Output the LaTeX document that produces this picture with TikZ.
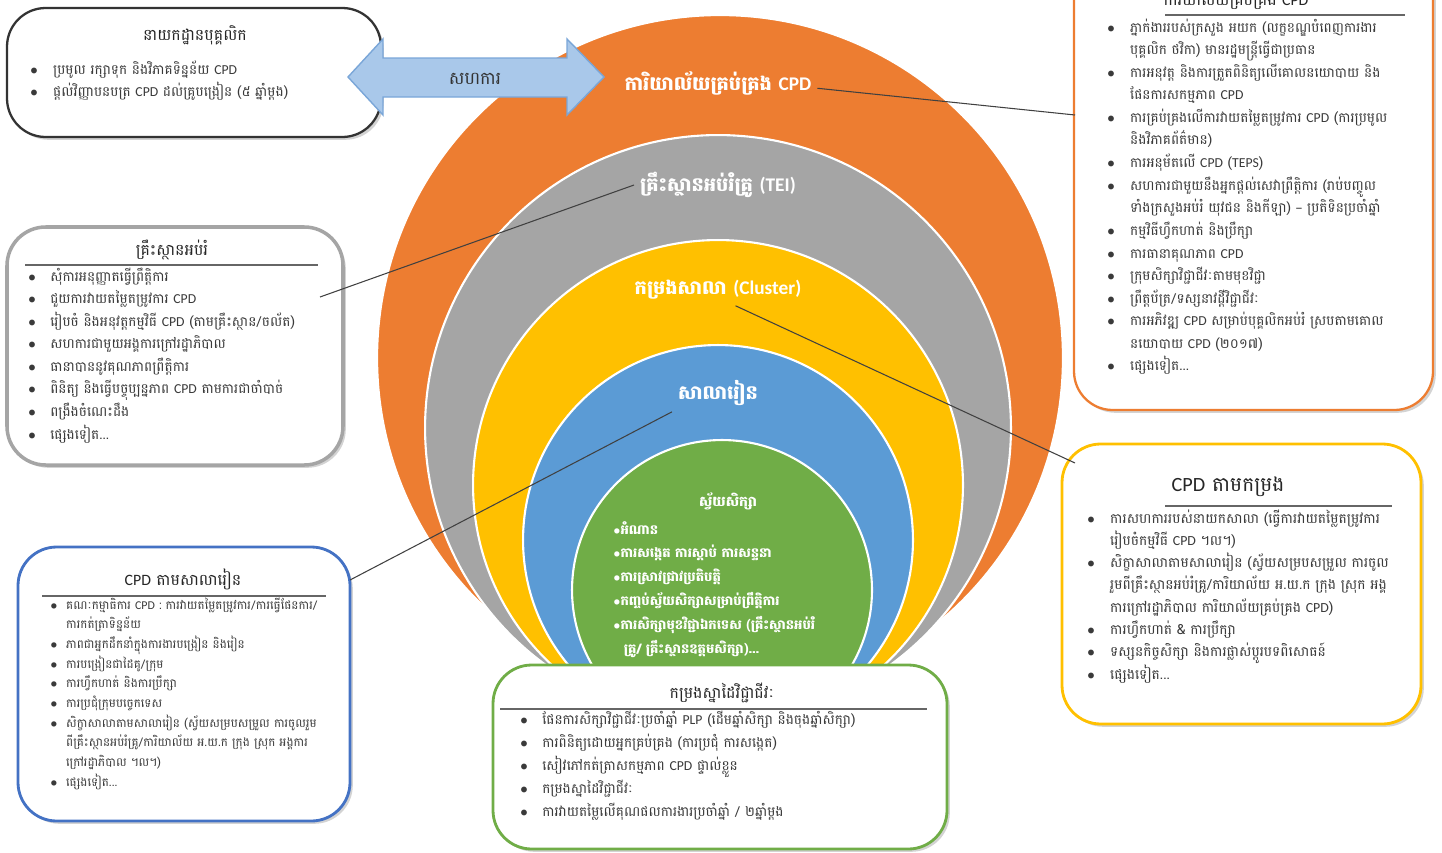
\documentclass[tikz,border=0pt]{standalone}
\usepackage{fontspec}
\setmainfont[Script=Khmer]{Battambang}
\newfontfamily\lat{Carlito}
\newfontfamily\symfont{DejaVu Sans}
\usetikzlibrary{shadows}

\definecolor{ringorange}{HTML}{ED7D31}
\definecolor{ringgray}{HTML}{A5A5A5}
\definecolor{ringgold}{HTML}{FFC000}
\definecolor{ringblue}{HTML}{5B9BD5}
\definecolor{ringgreen}{HTML}{70AD47}
\definecolor{arrowfill}{HTML}{A9C8EA}
\definecolor{arrowline}{HTML}{7AA6D8}
\definecolor{boxblue}{HTML}{4472C4}
\definecolor{bodytext}{HTML}{3A3A3A}

\newcommand{\kbul}{$\bullet$}
\newcommand{\kit}[1]{\kbul & #1\\}
\newcommand{\kcont}[1]{& #1\\}
\newcommand{\cpd}{{\lat CPD}}

\tikzset{
  ring/.style={draw=white, line width=1.2pt},
  ringlabel/.style={text=white, font=\bfseries\fontsize{11}{13}\selectfont},
  infobox/.style={fill=white, rounded corners=22pt, line width=1.3pt,
    drop shadow={shadow xshift=1.6pt, shadow yshift=-1.6pt, opacity=0.35}},
  boxtitle/.style={anchor=base, inner sep=0pt, text=black!85,
    font=\fontsize{9}{11}\selectfont},
  boxlist/.style={anchor=base west, inner sep=0pt, text=bodytext},
  titlerule/.style={draw=black!60, line width=0.6pt},
  link/.style={draw=black!75, line width=0.6pt}
}

\begin{document}
\begin{tikzpicture}[x=0.02cm, y=-0.02cm]
  \useasboundingbox (0,0) rectangle (1442,852);

  % Draw the nested rings
  \filldraw[ring, fill=ringorange] (720,358) circle (6.86cm);
  \filldraw[ring, fill=ringgray] (718,428) circle (5.86cm);
  \filldraw[ring, fill=ringgold] (718,485) circle (4.9cm);
  \filldraw[ring, fill=ringblue] (718,540) circle (3.9cm);
  \filldraw[ring, fill=ringgreen] (722,590) circle (3cm);

  % Ring labels
  \node[ringlabel] (ocpd) at (718,83) {ការិយាល័យគ្រប់គ្រង {\lat CPD}};
  \node[ringlabel] (tei) at (718,185) {គ្រឹះស្ថានអប់រំគ្រូ {\lat (TEI)}};
  \node[ringlabel] (clus) at (718,290) {កម្រងសាលា {\lat (Cluster)}};
  \node[ringlabel] (school) at (718,393) {សាលារៀន};

  % Self study in the green circle
  \node[anchor=base, text=white, font=\bfseries\fontsize{8}{10}\selectfont] (selfst) at (728,506) {ស្វ័យសិក្សា};
  \node[anchor=base west, inner sep=0pt, text=white, font=\bfseries\fontsize{7.5}{13.6}\selectfont] (selflist) at (613,534) {%
    \begin{tabular}[t]{@{}l@{}}
      $\bullet$អំណាន\\
      $\bullet$ការសង្កេត ការស្តាប់ ការសន្ទនា\\
      $\bullet$ការស្រាវជ្រាវប្រតិបត្តិ\\
      $\bullet$កញ្ចប់ស្វ័យសិក្សាសម្រាប់ព្រឹត្តិការ\\
      $\bullet$ការសិក្សាមុខវិជ្ជាឯកទេស (គ្រឹះស្ថានអប់រំ\\
      \hspace*{6pt}គ្រូ/ គ្រឹះស្ថានឧត្តមសិក្សា)...\\
    \end{tabular}};

  % Box: personnel department
  \draw[infobox, draw=black!80] (7,8) rectangle (381,137);
  \node[boxtitle] (perst) at (195,40) {នាយកដ្ឋានបុគ្គលិក};
  \node[boxlist, font=\fontsize{7.8}{13}\selectfont] (perslist) at (30,74) {%
    \begin{tabular}[t]{@{}p{13pt}@{}l@{}}
      \kit{ប្រមូល រក្សាទុក និងវិភាគទិន្នន័យ \cpd}
      \kit{ផ្តល់វិញ្ញាបនបត្រ \cpd{} ដល់គ្រូបង្រៀន (៥ ឆ្នាំម្តង)}
    \end{tabular}};

  % Double arrow between the two offices
  \filldraw[fill=arrowfill, draw=arrowline, line width=0.8pt]
    (348,77) -- (383,39) -- (383,58) -- (567,58) -- (567,39) -- (604,77)
    -- (567,115) -- (567,97) -- (383,97) -- (383,115) -- cycle;
  \node[text=black!80, font=\fontsize{10}{12}\selectfont] (coop) at (475,79) {សហការ};

  % Box: CPD office
  \draw[infobox, draw=ringorange] (1074,-40) rectangle (1433,410);
  \node[boxtitle] (offt) at (1236,6) {ការិយាល័យគ្រប់គ្រង \cpd};
  \draw[titlerule] (1165,15) -- (1405,15);
  \node[boxlist, font=\fontsize{7.8}{12.85}\selectfont] (offlist) at (1107,32) {%
    \begin{tabular}[t]{@{}p{13pt}@{}l@{}}
      \kit{ភ្នាក់ងាររបស់ក្រសួង អយក (លក្ខខណ្ឌបំពេញការងារ}
      \kcont{បុគ្គលិក ថវិកា) មានរដ្ឋមន្ត្រីធ្វើជាប្រធាន}
      \kit{ការអនុវត្ត និងការត្រួតពិនិត្យលើគោលនយោបាយ និង}
      \kcont{ផែនការសកម្មភាព \cpd}
      \kit{ការគ្រប់គ្រងលើការវាយតម្លៃតម្រូវការ \cpd{} (ការប្រមូល}
      \kcont{និងវិភាគព័ត៌មាន)}
      \kit{ការអនុម័តលើ \cpd{} ({\lat TEPS})}
      \kit{សហការជាមួយនឹងអ្នកផ្តល់សេវាព្រឹត្តិការ (រាប់បញ្ចូល}
      \kcont{ទាំងក្រសួងអប់រំ យុវជន និងកីឡា) {\symfont –} ប្រតិទិនប្រចាំឆ្នាំ}
      \kit{កម្មវិធីហ្វឹកហាត់ និងប្រឹក្សា}
      \kit{ការធានាគុណភាព \cpd}
      \kit{ក្រុមសិក្សាវិជ្ជាជីវៈតាមមុខវិជ្ជា}
      \kit{ព្រឹត្តប័ត្រ/ទស្សនាវដ្តីវិជ្ជាជីវៈ}
      \kit{ការអភិវឌ្ឍ \cpd{} សម្រាប់បុគ្គលិកអប់រំ ស្របតាមគោល}
      \kcont{នយោបាយ \cpd{} (២០១៧)}
      \kit{ផ្សេងទៀត...}
    \end{tabular}};

  % Box: education institutions
  \draw[infobox, draw=ringgray, line width=2pt] (7,227) rectangle (343,465);
  \node[boxtitle] (instt) at (172,255) {គ្រឹះស្ថានអប់រំ};
  \draw[titlerule] (25,265) -- (318,265);
  \node[boxlist, font=\fontsize{7.8}{12.85}\selectfont] (instlist) at (28,281) {%
    \begin{tabular}[t]{@{}p{12.5pt}@{}l@{}}
      \kit{សុំការអនុញ្ញាតធ្វើព្រឹត្តិការ}
      \kit{ជួយការវាយតម្លៃតម្រូវការ \cpd}
      \kit{រៀបចំ និងអនុវត្តកម្មវិធី \cpd{} (តាមគ្រឹះស្ថាន/ចល័ត)}
      \kit{សហការជាមួយអង្គការក្រៅរដ្ឋាភិបាល}
      \kit{ធានាបាននូវគុណភាពព្រឹត្តិការ}
      \kit{ពិនិត្យ និងធ្វើបច្ចុប្បន្នភាព \cpd{} តាមការជាចាំបាច់}
      \kit{ពង្រឹងចំណេះដឹង}
      \kit{ផ្សេងទៀត...}
    \end{tabular}};

  % Box: school based CPD
  \draw[infobox, draw=boxblue, line width=1.6pt] (18,547) rectangle (350,821);
  \node[boxtitle] (schoolt) at (183,585) {\cpd{} តាមសាលារៀន};
  \draw[titlerule] (42,596) -- (326,596);
  \node[boxlist, font=\fontsize{6.8}{11.2}\selectfont] (schoollist) at (50,609) {%
    \begin{tabular}[t]{@{}p{9pt}@{}l@{}}
      \kit{គណៈកម្មាធិការ \cpd{} : ការវាយតម្លៃតម្រូវការ/ការធ្វើផែនការ/}
      \kcont{ការកត់ត្រាទិន្នន័យ}
      \kit{ភាពជាអ្នកដឹកនាំក្នុងការងារបង្រៀន និងរៀន}
      \kit{ការបង្រៀនជាដៃគូ/ក្រុម}
      \kit{ការហ្វឹកហាត់ និងការប្រឹក្សា}
      \kit{ការប្រជុំក្រុមបច្ចេកទេស}
      \kit{សិក្ខាសាលាតាមសាលារៀន (ស្វ័យសម្របសម្រួល ការចូលរួម}
      \kcont{ពីគ្រឹះស្ថានអប់រំគ្រូ/ការិយាល័យ អ.យ.ក ក្រុង ស្រុក អង្គការ}
      \kcont{ក្រៅរដ្ឋាភិបាល ។ល។)}
      \kit{ផ្សេងទៀត...}
    \end{tabular}};

  % Box: cluster based CPD
  \draw[infobox, draw=ringgold, line width=1.6pt] (1062,444) rectangle (1421,724);
  \node[boxtitle, font=\fontsize{11.5}{13}\selectfont] (clust) at (1228,491) {\cpd{} តាមកម្រង};
  \draw[titlerule] (1165,506) -- (1392,506);
  \node[boxlist, font=\fontsize{7.9}{12.7}\selectfont] (cluslist) at (1087,523) {%
    \begin{tabular}[t]{@{}p{13pt}@{}l@{}}
      \kit{ការសហការរបស់នាយកសាលា (ធ្វើការវាយតម្លៃតម្រូវការ}
      \kcont{រៀបចំកម្មវិធី \cpd{} ។ល។)}
      \kit{សិក្ខាសាលាតាមសាលារៀន (ស្វ័យសម្របសម្រួល ការចូល}
      \kcont{រួមពីគ្រឹះស្ថានអប់រំគ្រូ/ការិយាល័យ អ.យ.ក ក្រុង ស្រុក អង្គ}
      \kcont{ការក្រៅរដ្ឋាភិបាល ការិយាល័យគ្រប់គ្រង \cpd)}
      \kit{ការហ្វឹកហាត់ \& ការប្រឹក្សា}
      \kit{ទស្សនកិច្ចសិក្សា និងការផ្លាស់ប្តូរបទពិសោធន៍}
      \kit{ផ្សេងទៀត...}
    \end{tabular}};

  % Box: professional portfolio
  \draw[infobox, draw=ringgreen, line width=1.6pt] (493,665) rectangle (947,849);
  \node[boxtitle] (portt) at (722,698) {កម្រងស្នាដៃវិជ្ជាជីវៈ};
  \draw[titlerule] (500,709) -- (927,709);
  \node[boxlist, font=\fontsize{7.8}{13.2}\selectfont] (portlist) at (520,724) {%
    \begin{tabular}[t]{@{}p{12.5pt}@{}l@{}}
      \kit{ផែនការសិក្សាវិជ្ជាជីវៈប្រចាំឆ្នាំ {\lat PLP} (ដើមឆ្នាំសិក្សា និងចុងឆ្នាំសិក្សា)}
      \kit{ការពិនិត្យដោយអ្នកគ្រប់គ្រង (ការប្រជុំ ការសង្កេត)}
      \kit{សៀវភៅកត់ត្រាសកម្មភាព \cpd{}  ផ្ទាល់ខ្លួន}
      \kit{កម្រងស្នាដៃវិជ្ជាជីវៈ}
      \kit{ការវាយតម្លៃលើគុណផលការងារប្រចាំឆ្នាំ / ២ឆ្នាំម្តង}
    \end{tabular}};

  % Connectors from the ring labels to the boxes
  \coordinate (offend) at (1075,115);
  \coordinate (instend) at (320,297);
  \coordinate (clusend) at (1075,463);
  \coordinate (schoolend) at (350,580);
  \draw[link] ([yshift=-3pt]ocpd.east) -- (offend);
  \draw[link] (tei.west) -- (instend);
  \draw[link] ([xshift=10pt]clus.south) -- (clusend);
  \draw[link] (school.south west) -- (schoolend);
\end{tikzpicture}
\end{document}
